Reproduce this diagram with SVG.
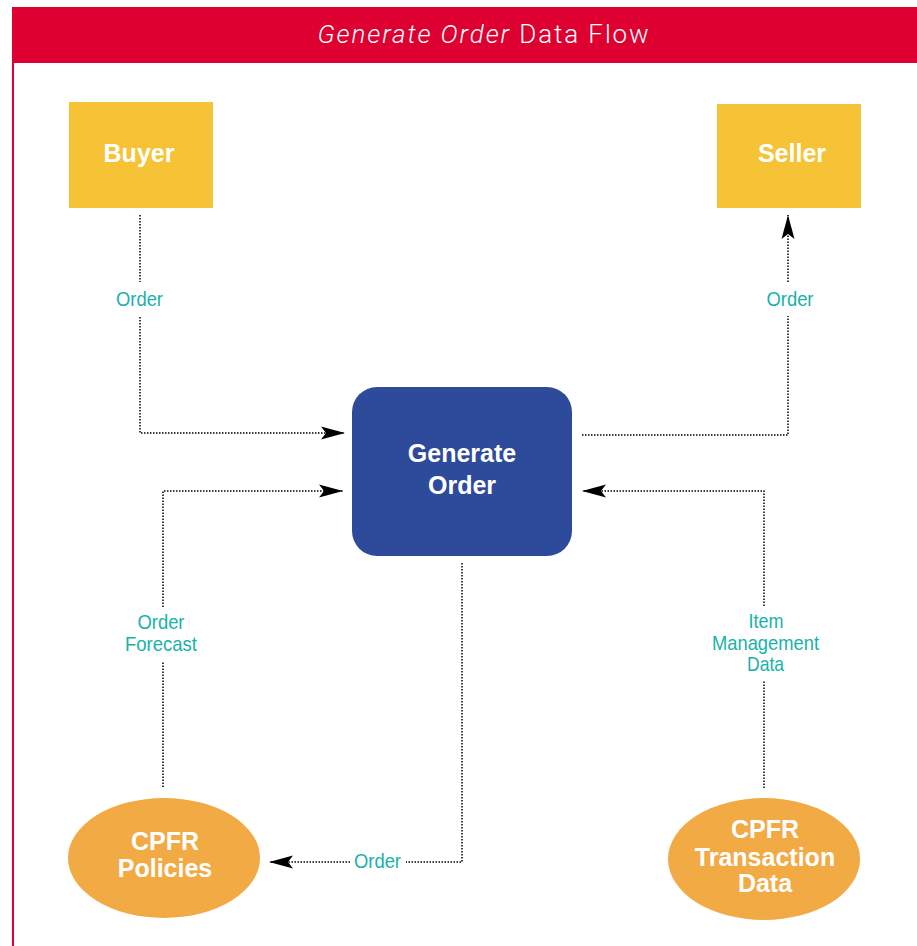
<svg xmlns="http://www.w3.org/2000/svg" width="917" height="946" viewBox="0 0 917 946">
<style>
.rect{fill:#F5C335}
.proc{fill:#2E4A9A}
.store{fill:#F2AA45}
.nt{font-family:"Liberation Sans",Arial,sans-serif;font-weight:bold;font-size:25px;fill:#fff;text-anchor:middle}
.lbl{font-family:"Liberation Sans",Arial,sans-serif;font-size:21px;fill:#17B3A8;text-anchor:middle}
.dot{fill:none;stroke:#000;stroke-width:1.5;stroke-dasharray:1.5 1.5}
.title{font-family:Roboto,"Liberation Sans",sans-serif;font-weight:300;font-size:26px;fill:#fff;text-anchor:middle;letter-spacing:1.9px}
</style>
<defs>
<marker id="arr" viewBox="-25 -7 26 14" markerWidth="26" markerHeight="14" refX="0" refY="0" orient="auto" markerUnits="userSpaceOnUse">
<path d="M0,0 L-24,-6.5 L-19,0 L-24,6.5 Z" fill="#000"/>
</marker>
</defs>
<rect width="917" height="946" fill="#fff"/>
<g id="header">
<rect x="12" y="7" width="905" height="56" fill="#DD0031"/>
<rect x="12" y="62" width="2" height="884" fill="#DD0031"/>
<text class="title" x="484" y="43"><tspan font-style="italic">Generate Order</tspan> Data Flow</text>
</g>
<g id="connectors">
<path class="dot" d="M140,215 V282"/>
<path class="dot" d="M140,317 V433 H345" marker-end="url(#arr)"/>
<text class="lbl" x="139.5" y="306" textLength="47" lengthAdjust="spacingAndGlyphs">Order</text>
<path class="dot" d="M582,435 H788 V316"/>
<path class="dot" d="M788,282 V215" marker-end="url(#arr)"/>
<text class="lbl" x="790" y="306" textLength="47" lengthAdjust="spacingAndGlyphs">Order</text>
<path class="dot" d="M163,787 V662"/>
<path class="dot" d="M163,607 V491 H343" marker-end="url(#arr)"/>
<text class="lbl" x="161" y="629" textLength="47" lengthAdjust="spacingAndGlyphs">Order</text>
<text class="lbl" x="161" y="651" textLength="72" lengthAdjust="spacingAndGlyphs">Forecast</text>
<path class="dot" d="M764,788 V680"/>
<path class="dot" d="M764,606 V491 H582" marker-end="url(#arr)"/>
<text class="lbl" x="766" y="628" textLength="35" lengthAdjust="spacingAndGlyphs">Item</text>
<text class="lbl" x="765.5" y="650" textLength="107" lengthAdjust="spacingAndGlyphs">Management</text>
<text class="lbl" x="765.5" y="671" textLength="37" lengthAdjust="spacingAndGlyphs">Data</text>
<path class="dot" d="M462,563 V862 H406"/>
<path class="dot" d="M350,862 H269" marker-end="url(#arr)"/>
<text class="lbl" x="377.5" y="868" textLength="47" lengthAdjust="spacingAndGlyphs">Order</text>
</g>
<g id="buyer">
<rect class="rect" x="69" y="102" width="144" height="106"/>
<text class="nt" x="139" y="162">Buyer</text>
</g>
<g id="seller">
<rect class="rect" x="717" y="104" width="144" height="104"/>
<text class="nt" x="792" y="162">Seller</text>
</g>
<g id="generate-order">
<rect class="proc" x="352" y="387" width="220" height="169" rx="25" ry="25"/>
<text class="nt" x="462" y="462">Generate</text>
<text class="nt" x="462" y="494">Order</text>
</g>
<g id="cpfr-policies">
<ellipse class="store" cx="164" cy="858" rx="96" ry="60"/>
<text class="nt" x="165" y="850">CPFR</text>
<text class="nt" x="165" y="877">Policies</text>
</g>
<g id="cpfr-transaction-data">
<ellipse class="store" cx="764" cy="859" rx="96" ry="61"/>
<text class="nt" x="765" y="838">CPFR</text>
<text class="nt" x="765" y="866">Transaction</text>
<text class="nt" x="765" y="892">Data</text>
</g>
</svg>
